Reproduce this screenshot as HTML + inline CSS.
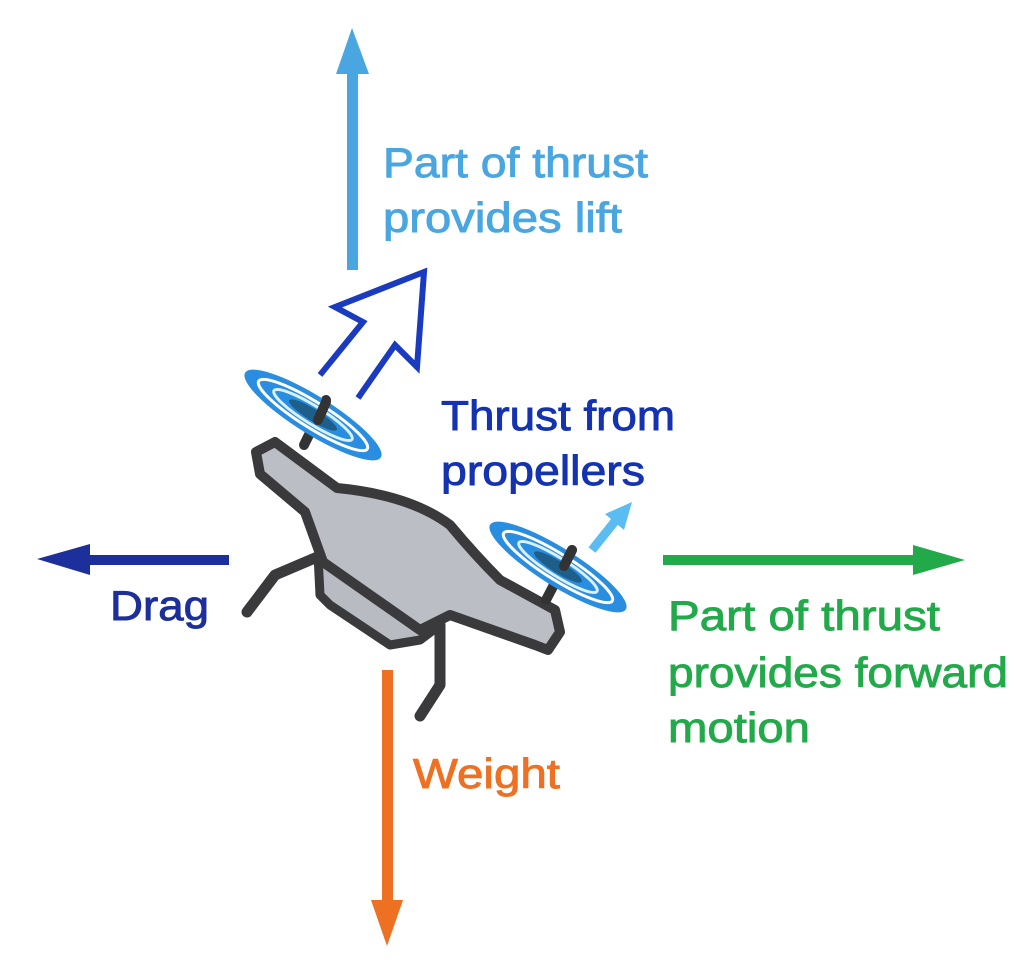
<!DOCTYPE html>
<html><head><meta charset="utf-8"><style>
html,body{margin:0;padding:0;background:#fff;}
svg{display:block}
text{font-family:"Liberation Sans",sans-serif;font-size:42px;stroke-width:0.9;}
</style></head><body>
<svg width="1016" height="968" viewBox="0 0 1016 968" xmlns="http://www.w3.org/2000/svg">
<!-- lift arrow -->
<rect x="347" y="70" width="11" height="200" fill="#49a6e0"/>
<polygon points="352,28 336,74 369,74" fill="#49a6e0"/>
<!-- drag -->
<rect x="88" y="555" width="141" height="10" fill="#1d2f9a"/>
<polygon points="37,559 90,544 90,575" fill="#1d2f9a"/>
<!-- forward -->
<rect x="663" y="555" width="252" height="10" fill="#22aa4a"/>
<polygon points="965,560 913,545 913,575" fill="#22aa4a"/>
<!-- weight -->
<rect x="382" y="670" width="11" height="235" fill="#ee7022"/>
<polygon points="387,946 371,900 403,900" fill="#ee7022"/>
<!-- hollow thrust arrow -->
<polyline points="320,375 363,322 335,307 424,272 417,367 395,345 358,398" fill="none" stroke="#1a3bbf" stroke-width="6" stroke-linejoin="miter"/>
<!-- small light arrow -->
<line x1="592" y1="550" x2="616" y2="520" stroke="#5bbcf2" stroke-width="9"/>
<polygon points="632,502 605,514 624,530" fill="#5bbcf2"/>
<!-- legs -->
<polyline points="322,555 275,575 247,612" fill="none" stroke="#3a3a3d" stroke-width="11" stroke-linecap="round" stroke-linejoin="round"/>
<polyline points="440,625 440,685 420,716" fill="none" stroke="#3a3a3d" stroke-width="11" stroke-linecap="round" stroke-linejoin="round"/>
<!-- lower box -->
<polygon points="318,555 320,595 330,605 390,645 420,640 440,625" fill="#b9bbc2" stroke="#3a3a3d" stroke-width="9" stroke-linejoin="round"/>
<!-- body -->
<path d="M256,452 L275,442 L337,488 Q410,495 450,525 Q475,555 500,580 L555,610 L560,632 L548,650 L535,645 L450,615 L420,630 L323,562 L305,512 L260,474 Z" fill="#bcbec5" stroke="#3a3a3d" stroke-width="10" stroke-linejoin="round"/>
<!-- motor posts -->
<line x1="304" y1="445" x2="326" y2="400" stroke="#333" stroke-width="10" stroke-linecap="round"/>
<line x1="546" y1="600" x2="572" y2="550" stroke="#333" stroke-width="10" stroke-linecap="round"/>
<!-- propellers -->
<g transform="translate(313,415) rotate(32)">
<ellipse rx="80" ry="19" fill="#2a8ee0"/>
<ellipse rx="64" ry="13" fill="none" stroke="#fff" stroke-width="3"/>
<ellipse rx="46" ry="9" fill="none" stroke="#d8f0ff" stroke-width="3"/>
<ellipse rx="28" ry="6" fill="#1d5f8a"/>
</g>
<g transform="translate(558,567) rotate(32)">
<ellipse rx="80" ry="19" fill="#2a8ee0"/>
<ellipse rx="64" ry="13" fill="none" stroke="#fff" stroke-width="3"/>
<ellipse rx="46" ry="9" fill="none" stroke="#d8f0ff" stroke-width="3"/>
<ellipse rx="28" ry="6" fill="#1d5f8a"/>
</g>
<line x1="318" y1="420" x2="326" y2="402" stroke="#333" stroke-width="10" stroke-linecap="round"/>
<line x1="564" y1="566" x2="572" y2="550" stroke="#333" stroke-width="10" stroke-linecap="round"/>
<!-- text -->
<text x="383" y="177" fill="#49a6e0" stroke="#49a6e0" textLength="265" lengthAdjust="spacingAndGlyphs">Part of thrust</text>
<text x="383" y="232" fill="#49a6e0" stroke="#49a6e0" textLength="239" lengthAdjust="spacingAndGlyphs">provides lift</text>
<text x="441" y="430" fill="#1533b0" stroke="#1533b0" textLength="234" lengthAdjust="spacingAndGlyphs">Thrust from</text>
<text x="441" y="485" fill="#1533b0" stroke="#1533b0" textLength="204" lengthAdjust="spacingAndGlyphs">propellers</text>
<text x="110" y="620" fill="#1d2f9a" stroke="#1d2f9a" textLength="99" lengthAdjust="spacingAndGlyphs">Drag</text>
<text x="668" y="630" fill="#22aa4a" stroke="#22aa4a" textLength="272" lengthAdjust="spacingAndGlyphs">Part of thrust</text>
<text x="668" y="687" fill="#22aa4a" stroke="#22aa4a" textLength="340" lengthAdjust="spacingAndGlyphs">provides forward</text>
<text x="668" y="742" fill="#22aa4a" stroke="#22aa4a" textLength="142" lengthAdjust="spacingAndGlyphs">motion</text>
<text x="413" y="788" fill="#ee7022" stroke="#ee7022" textLength="147" lengthAdjust="spacingAndGlyphs">Weight</text>
</svg>
</body></html>
